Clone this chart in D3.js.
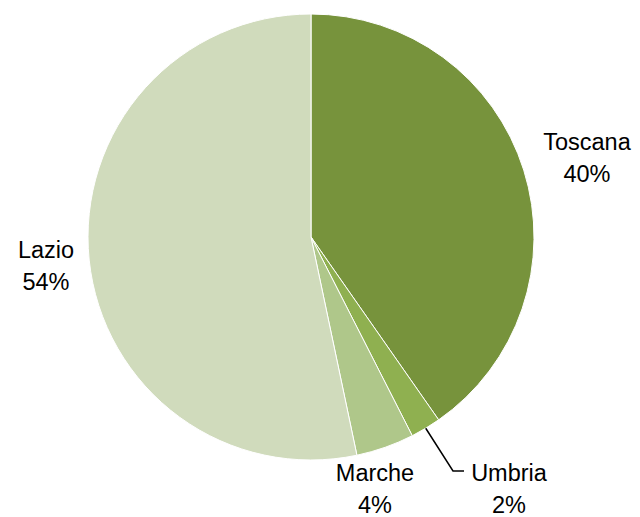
<!DOCTYPE html>
<html>
<head>
<meta charset="utf-8">
<script src="https://cdn.jsdelivr.net/npm/d3@7"></script>
<style>
  body { margin: 0; background: #fff; }
  text { font-family: "Liberation Sans", Arial, sans-serif; font-size: 23.5px; fill: #000; }
</style>
</head>
<body>
<script>
// Données
var regioni = ["Toscana", "Umbria", "Marche", "Lazio"];
var valori = [40.3, 2.2, 4.2, 53.3];
var percentuali = ["40%", "2%", "4%", "54%"];
var colori = ["#77933C", "#8FB050", "#AFC78A", "#D0DBBC"];

var width = 640, height = 517;
var cx = 311, cy = 237, r = 223;

// position des étiquettes (centre du texte, ligne de base de la 1re ligne)
var etiquettes = {
  "Toscana": [587, 150],
  "Umbria": [509, 481],
  "Marche": [375, 481],
  "Lazio": [46, 258]
};

var svg = d3.select("body").append("svg")
    .attr("width", width)
    .attr("height", height);

var g = svg.append("g")
    .attr("transform", `translate(${cx},${cy})`);

var donnees = regioni.map((d, i) => ({nom: d, val: valori[i], lab: percentuali[i], col: colori[i]}));

var pie = d3.pie().sort(null).value(d => d.val);
var arc = d3.arc().innerRadius(0).outerRadius(r);
var arcs = pie(donnees);

g.selectAll("path")
  .data(arcs)
  .enter().append("path")
  .attr("d", arc)
  .attr("fill", d => d.data.col)
  .attr("stroke", "#fff")
  .attr("stroke-width", 1);

// Ligne de rappel pour Umbria
var u = arcs[1];
var mid = (u.startAngle + u.endAngle) / 2;
var px = r * Math.sin(mid), py = -r * Math.cos(mid);
var lu = etiquettes["Umbria"];
svg.append("polyline")
  .attr("points", [
    [cx + px, cy + py],
    [lu[0] - 56, lu[1] - 10],
    [lu[0] - 45, lu[1] - 10]
  ].map(p => p.join(",")).join(" "))
  .attr("fill", "none")
  .attr("stroke", "#000")
  .attr("stroke-width", 1.5);

// Étiquettes
arcs.forEach(function (d) {
  var pos = etiquettes[d.data.nom];
  var t = svg.append("text")
      .attr("x", pos[0])
      .attr("y", pos[1])
      .attr("text-anchor", "middle");
  t.append("tspan").attr("x", pos[0]).text(d.data.nom);
  t.append("tspan").attr("x", pos[0]).attr("dy", 32).text(d.data.lab);
});
</script>
</body>
</html>
